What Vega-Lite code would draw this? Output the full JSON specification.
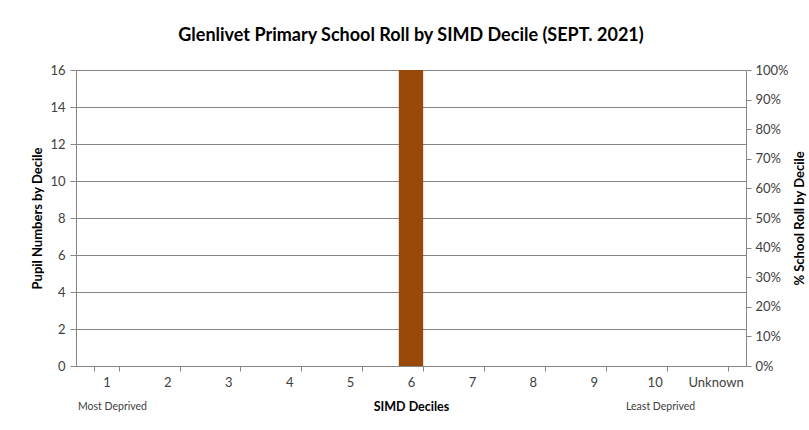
{
  "$schema": "https://vega.github.io/schema/vega-lite/v6.json",
  "width": 670,
  "height": 296,
  "autosize": "none",
  "padding": {"left": 76, "top": 70, "right": 63, "bottom": 64},
  "background": "white",
  "title": {
    "text": "Glenlivet Primary School Roll by SIMD Decile (SEPT. 2021)",
    "font": "Lato",
    "fontSize": 18,
    "fontWeight": "bold",
    "color": "#000000",
    "anchor": "middle",
    "offset": 19
  },
  "data": {
    "values": [
      {"decile": "1", "pupils": 0, "pct": 0},
      {"decile": "2", "pupils": 0, "pct": 0},
      {"decile": "3", "pupils": 0, "pct": 0},
      {"decile": "4", "pupils": 0, "pct": 0},
      {"decile": "5", "pupils": 0, "pct": 0},
      {"decile": "6", "pupils": 16, "pct": 1},
      {"decile": "7", "pupils": 0, "pct": 0},
      {"decile": "8", "pupils": 0, "pct": 0},
      {"decile": "9", "pupils": 0, "pct": 0},
      {"decile": "10", "pupils": 0, "pct": 0},
      {"decile": "Unknown", "pupils": 0, "pct": 0}
    ]
  },
  "layer": [
    {
      "mark": {"type": "bar", "color": "#984807"},
      "encoding": {
        "x": {
          "field": "decile",
          "type": "ordinal",
          "sort": null,
          "scale": {"paddingInner": 0.6, "paddingOuter": 0.3},
          "axis": {
            "title": "SIMD Deciles",
            "titleFontSize": 12.5,
            "titleFontWeight": "bold",
            "titleColor": "#000000",
            "titlePadding": 11,
            "labelAngle": 0,
            "labelFontSize": 13,
            "labelColor": "#404040",
            "labelPadding": 5,
            "tickBand": "extent",
            "tickSize": 5,
            "tickColor": "#868686",
            "domainColor": "#868686",
            "grid": false
          }
        },
        "y": {
          "field": "pupils",
          "type": "quantitative",
          "scale": {"domain": [0, 16], "nice": false},
          "axis": {
            "title": "Pupil Numbers by Decile",
            "titleFontSize": 13,
            "titleFontWeight": "bold",
            "titleColor": "#000000",
            "titlePadding": 5,
            "values": [0, 2, 4, 6, 8, 10, 12, 14, 16],
            "labelFontSize": 13,
            "labelColor": "#404040",
            "labelPadding": 5,
            "tickSize": 6,
            "tickColor": "#868686",
            "domainColor": "#868686",
            "grid": true,
            "gridColor": "#868686",
            "gridOpacity": 1
          }
        }
      }
    },
    {
      "mark": {"type": "bar", "opacity": 0},
      "encoding": {
        "x": {
          "field": "decile",
          "type": "ordinal",
          "sort": null,
          "axis": {
            "title": null,
            "orient": "bottom",
            "offset": 30,
            "domain": false,
            "ticks": false,
            "labelAngle": 0,
            "labelFontSize": 10.5,
            "labelColor": "#404040",
            "labelPadding": 5,
            "labelOffset": 6,
            "labelExpr": "datum.value == '1' ? 'Most Deprived' : datum.value == '10' ? 'Least Deprived' : ''",
            "grid": false
          }
        },
        "y": {
          "field": "pct",
          "type": "quantitative",
          "scale": {"domain": [0, 1], "nice": false},
          "axis": {
            "orient": "right",
            "title": "% School Roll by Decile",
            "titleAngle": -90,
            "titleFontSize": 13,
            "titleFontWeight": "bold",
            "titleColor": "#000000",
            "titlePadding": 18,
            "values": [0, 0.1, 0.2, 0.3, 0.4, 0.5, 0.6, 0.7, 0.8, 0.9, 1],
            "format": ".0%",
            "labelFontSize": 13,
            "labelColor": "#404040",
            "labelPadding": 4,
            "tickSize": 5,
            "tickColor": "#868686",
            "domainColor": "#868686",
            "grid": false
          }
        }
      }
    }
  ],
  "resolve": {"scale": {"y": "independent"}, "axis": {"x": "independent", "y": "independent"}},
  "config": {
    "font": "Lato",
    "view": {"stroke": null}
  }
}
